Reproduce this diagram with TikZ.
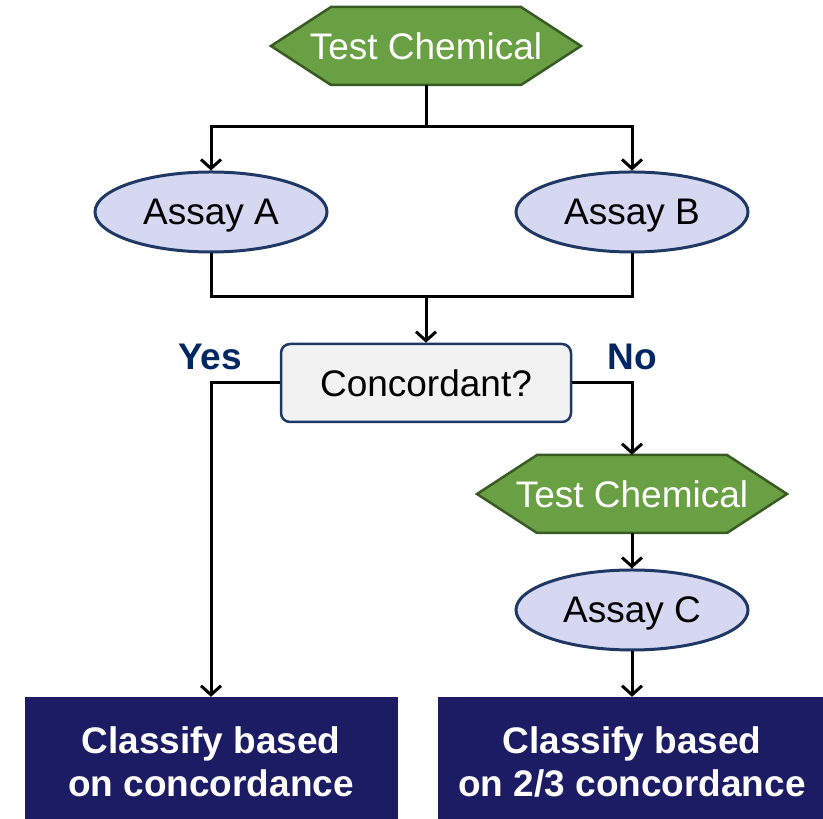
\documentclass[tikz,border=0pt]{standalone}
\usepackage{fontspec}
\setmainfont{Liberation Sans}
\usetikzlibrary{shapes.geometric,arrows.meta}
\definecolor{hexfill}{RGB}{106,160,68}
\definecolor{hexdraw}{RGB}{58,90,36}
\definecolor{ellfill}{RGB}{214,216,242}
\definecolor{elldraw}{RGB}{32,56,100}
\definecolor{concfill}{RGB}{242,242,242}
\definecolor{boxfill}{RGB}{28,28,100}
\definecolor{yncol}{RGB}{0,38,100}
\tikzset{
  base/.style={font=\fontsize{37}{43}\selectfont, inner sep=0pt, align=center},
  hexshape/.style={fill=hexfill, draw=hexdraw, line width=2.5pt, line join=miter},
  hexbox/.style={base, rectangle, minimum width=310pt, minimum height=78pt, text=white},
  assay/.style={base, ellipse, minimum width=232pt, minimum height=80pt, text depth=0pt,
    fill=ellfill, draw=elldraw, line width=3pt},
  decision/.style={base, rectangle, rounded corners=9pt, minimum width=290pt,
    minimum height=78pt, fill=concfill, draw=elldraw, line width=2.5pt},
  result/.style={base, rectangle, fill=boxfill, text=white, font=\fontsize{37}{43}\selectfont\bfseries,
    minimum height=129pt},
  answer/.style={base, text=yncol, font=\fontsize{37}{43}\selectfont\bfseries},
  conn/.style={line width=3pt, black},
  arr/.style={conn, -{Straight Barb[length=9pt,width=20pt]}}
}
\newcommand{\hexat}[4]{%
  \path[hexshape] (#2-155,#3) -- ++(60,39) -- ++(190,0) -- ++(60,-39)
    -- ++(-60,-39) -- ++(-190,0) -- cycle;
  \node[hexbox] (#1) at (#2,#3) {#4};}
\begin{document}
\begin{tikzpicture}[x=1pt,y=1pt]
\useasboundingbox (0,0) rectangle (823,819);
\hexat{hex1}{426}{773}{Test Chemical}
\node[assay] (assayA) at (211,607) {Assay A};
\node[assay] (assayB) at (632,607) {Assay B};
\node[decision] (conc) at (426,436) {Concordant?};
\node[answer] (yes) at (210,462) {Yes};
\node[answer] (no) at (632,462) {No};
\hexat{hex2}{632}{325}{Test Chemical}
\node[assay] (assayC) at (632,209) {Assay C};
\node[result, minimum width=373pt] (box1) at (211,57.5) {Classify based\\on concordance};
\node[result, minimum width=388pt] (box2) at (632,57.5) {Classify based\\on 2/3 concordance};
\coordinate (s1) at (426,692);
\coordinate (j1) at (426,522);
\draw[conn] (hex1.south) -- (s1);
\draw[arr] (s1) -| (assayA.north);
\draw[arr] (s1) -| (assayB.north);
\draw[conn] (assayA.south) |- (j1);
\draw[conn] (assayB.south) |- (j1);
\draw[arr] (j1) -- (conc.north);
\draw[arr] (conc.west) -| (box1.north);
\draw[arr] (conc.east) -| (hex2.north);
\draw[arr] (hex2.south) -- (assayC.north);
\draw[arr] (assayC.south) -- (box2.north);
\end{tikzpicture}
\end{document}
